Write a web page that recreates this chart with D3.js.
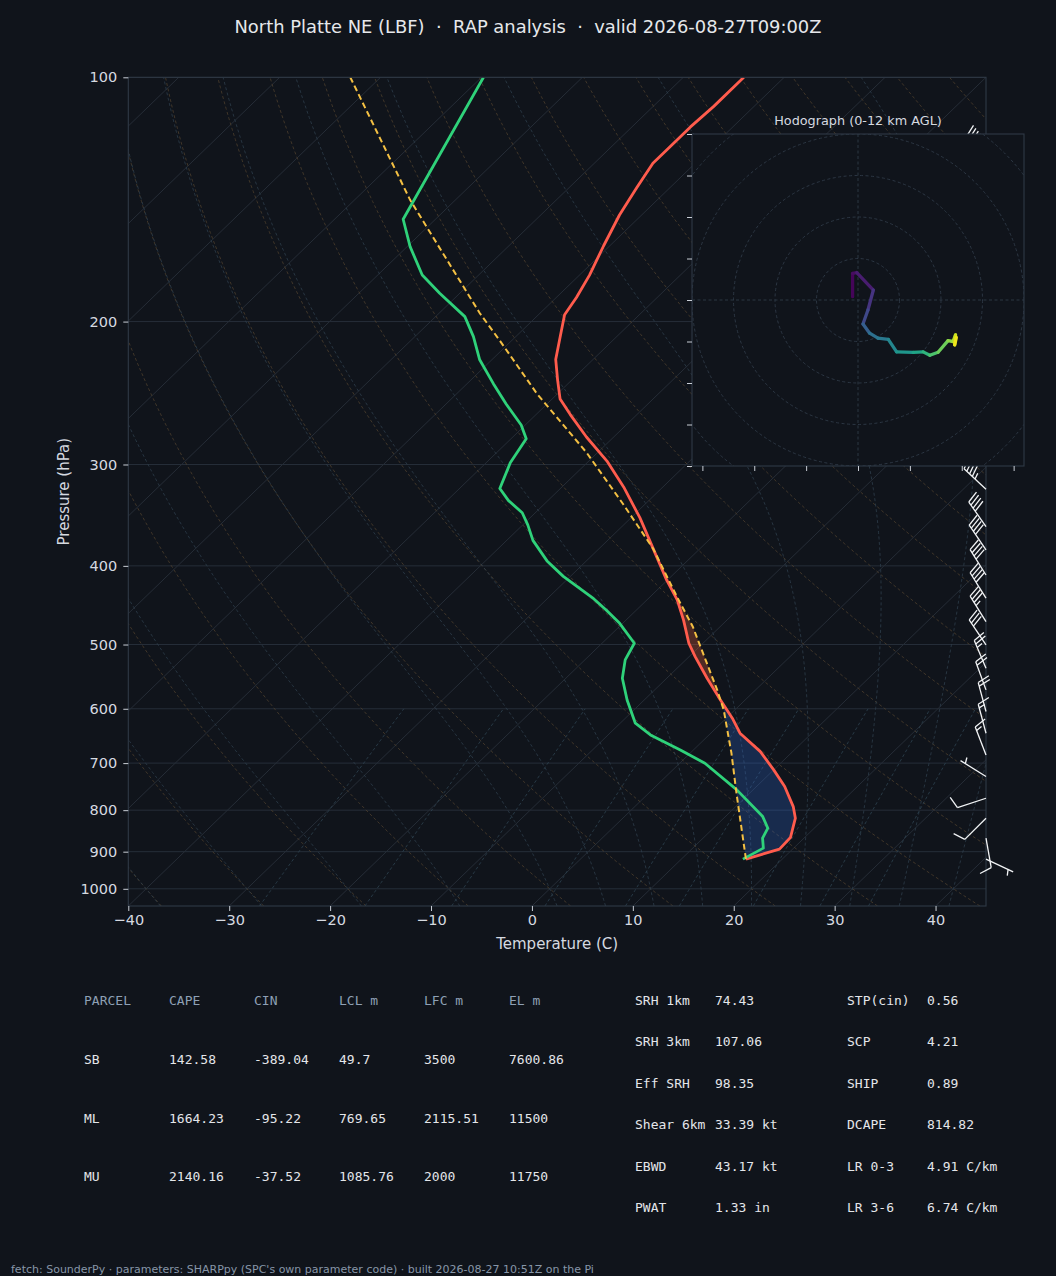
<!DOCTYPE html>
<html>
<head>
<meta charset="utf-8">
<script src="https://cdn.jsdelivr.net/npm/d3@7"></script>
<style>
  body { margin: 0; background: #10141b; }
  svg { display: block; }
  svg text { font-family: "DejaVu Sans", sans-serif; }
  .mono { font-family: "DejaVu Sans Mono", monospace; }
</style>
</head>
<body>
<svg id="chart" width="1056" height="1276"></svg>
<script>
// ---- sounding data (hPa, degC), surface first ----
const tempP = [919.2, 893.5, 864.7, 818.4, 791.9, 748.2, 713.6, 677.5, 643.1, 616.3, 579.7, 550.2, 517.5, 498.2, 466.5, 440.5, 416.3, 381.2, 349.1, 319.7, 297.1, 277.5, 260.4, 249.2, 236.1, 222.7, 208.0, 196.2, 186.8, 175.3, 161.4, 147.8, 136.7, 127.6, 122.7, 115.2, 108.6, 100];
const tempC = [16.4, 18.7, 18.6, 17.1, 15.7, 12.8, 10.0, 6.8, 2.9, 0.6, -3.0, -6.0, -9.4, -11.4, -14.3, -17.0, -20.1, -24.6, -29.1, -33.9, -38.2, -42.7, -46.6, -49.2, -51.4, -53.7, -55.7, -57.4, -58.0, -59.0, -60.6, -62.2, -63.3, -64.2, -64.2, -64.2, -64.0, -64.0];

const dewP = [919.2, 891.0, 866.2, 842.0, 814.7, 755.3, 700.3, 674.3, 646.2, 625.1, 585.2, 550.2, 522.3, 498.2, 470.8, 453.4, 439.1, 412.1, 394.4, 372.1, 356.1, 344.0, 332.4, 321.2, 298.6, 278.8, 268.2, 252.9, 238.5, 222.9, 208.7, 197.2, 184.5, 175.2, 161.7, 149.6, 100];
const dewC = [16.1, 17.0, 15.9, 15.4, 13.7, 8.4, 2.5, -1.3, -5.8, -8.5, -11.7, -14.4, -16.0, -16.8, -20.3, -23.0, -25.4, -30.7, -33.9, -37.4, -39.5, -41.3, -43.9, -46.0, -47.6, -48.5, -50.4, -54.0, -57.4, -61.2, -64.2, -67.1, -72.0, -75.6, -79.7, -83.2, -89.8];

const parcelP = [919.2, 762.4, 680.6, 602.0, 568.8, 475.4, 437.0, 381.2, 335.6, 290.0, 245.6, 211.7, 195.2, 141.6, 100];
const parcelC = [16.4, 8.7, 4.1, -1.1, -3.8, -12.7, -17.3, -24.6, -32.2, -41.1, -52.0, -61.0, -66.0, -84.5, -103.0];

// wind barbs (direction from, knots)
const barbP = [126.1, 321.8, 357.8, 382.3, 410.5, 438.4, 468.5, 500.4, 534.8, 568.7, 604.7, 643.1, 683.9, 727.2, 773.4, 818.4, 866.1, 919.2];
const barbDir = [320, 313, 325, 326, 328, 328, 328, 326, 337, 340, 345, 345, 339, 302, 252, 225, 170, 115];
const barbSpd = [45, 45, 40, 40, 40, 40, 35, 30, 25, 20, 20, 15, 15, 5, 10, 10, 10, 5];

// hodograph 0-12 km
const hodoU = [-1.3, -1.3, -0.3, 3.7, 2.4, 1.2, 2.8, 4.8, 7.3, 9.3, 13.3, 15.7, 17.3, 19.3, 21.7, 22.9, 23.5, 23.3, 23.7];
const hodoV = [0.8, 6.4, 6.6, 2.4, -2.4, -5.8, -8.0, -9.2, -9.5, -12.5, -12.6, -12.5, -13.3, -12.6, -9.8, -10.0, -8.4, -10.8, -9.0];
const hodoKm = [0, 0.3, 0.5, 1.4, 2.2, 3.0, 4.2, 4.6, 5.0, 6.0, 6.6, 7.4, 8.2, 9.0, 9.6, 10.2, 10.8, 11.4, 12.0];
const hodoRings = [10, 20, 30, 40, 50, 60];
const hodoYTicks = [-40, -30, -20, -10, 0, 10, 20, 30, 40];
const hodoXTicks = [-37.5, -25, -12.5, 0, 12.5, 25, 37.5];

// axes ticks and background lines
const pressureTicks = [100, 200, 300, 400, 500, 600, 700, 800, 900, 1000];
const tempTicks = [-40, -30, -20, -10, 0, 10, 20, 30, 40];
const isotherms = [-120, -110, -100, -90, -80, -70, -60, -50, -40, -30, -20, -10, 0, 10, 20, 30, 40];
const dryStarts = [-40, -30, -20, -10, 0, 10, 20, 30, 40, 50, 60, 70, 80, 90, 100, 110, 120, 130, 140, 150, 160, 170, 180, 190, 200, 210, 220, 230, 240];
const moistStarts = [-40, -30, -20, -10, 0, 5, 10, 15, 20, 25, 30, 35, 40, 45, 50, 55, 60, 65, 70, 75, 80, 85, 90, 95];
const mixingRatios = [0.0004, 0.001, 0.002, 0.004, 0.007, 0.01, 0.016, 0.024, 0.032];

// table
const parcelNames = ["SB", "ML", "MU"];
const capeVals = ["142.58", "1664.23", "2140.16"];
const cinVals = ["-389.04", "-95.22", "-37.52"];
const lclVals = ["49.7", "769.65", "1085.76"];
const lfcVals = ["3500", "2115.51", "2000"];
const elVals = ["7600.86", "11500", "11750"];
const tableHeader = ["PARCEL", "CAPE", "CIN", "LCL m", "LFC m", "EL m"];
const kinLabels = ["SRH 1km", "SRH 3km", "Eff SRH", "Shear 6km", "EBWD", "PWAT"];
const kinVals = ["74.43", "107.06", "98.35", "33.39 kt", "43.17 kt", "1.33 in"];
const compLabels = ["STP(cin)", "SCP", "SHIP", "DCAPE", "LR 0-3", "LR 3-6"];
const compVals = ["0.56", "4.21", "0.89", "814.82", "4.91 C/km", "6.74 C/km"];

const BG = "#10141b";
const svg = d3.select("#chart");
svg.append("rect").attr("width", 1056).attr("height", 1276).attr("fill", BG);

svg.append("text")
  .attr("x", 528).attr("y", 33)
  .attr("text-anchor", "middle")
  .attr("font-size", 17.9)
  .attr("fill", "#e6e8eb")
  .style("white-space", "pre")
  .text("North Platte NE (LBF)  \u00b7  RAP analysis  \u00b7  valid 2026-08-27T09:00Z");

// ---- skew-T geometry ----
const X0 = 128.3, X1 = 986, Y0 = 77.3, Y1 = 906;
const x = d3.scaleLinear().domain([-40, 45]).range([X0, X1]);
const y = d3.scaleLog().domain([1050, 100]).range([Y1, Y0]);
const skew = (X1 - X0) / (Y1 - Y0);
function sx(t, p) { return x(t) + (Y1 - y(p)) * skew; }

svg.append("clipPath").attr("id", "skewclip")
  .append("rect").attr("x", X0).attr("y", Y0).attr("width", X1 - X0).attr("height", Y1 - Y0);

const grid = svg.append("g").attr("clip-path", "url(#skewclip)");
const levels = d3.range(0, 81).map(i => 1050 * Math.pow(100 / 1050, i / 80));
const curve = d3.line().x(d => sx(d[1], d[0])).y(d => y(d[0]));

// pressure grid
grid.selectAll(".pgrid").data(pressureTicks).enter().append("line")
  .attr("x1", X0).attr("x2", X1)
  .attr("y1", d => y(d)).attr("y2", d => y(d))
  .attr("stroke", "#262e39").attr("stroke-width", 1);

// isotherms
grid.selectAll(".iso").data(isotherms).enter().append("line")
  .attr("x1", d => sx(d, 1050)).attr("y1", y(1050))
  .attr("x2", d => sx(d, 100)).attr("y2", y(100))
  .attr("stroke", "#262d37").attr("stroke-width", 1);

// dry adiabats
grid.selectAll(".dry").data(dryStarts).enter().append("path")
  .attr("d", t0 => curve(levels.map(p => [p, (t0 + 273.15) * Math.pow(p / 1000, 0.28571) - 273.15])))
  .attr("fill", "none").attr("stroke", "#4d3f2d").attr("stroke-width", 0.8)
  .attr("stroke-dasharray", "3,2.5");

// moist adiabats
function dTdp(p, t) {
  const es = 6.112 * Math.exp(17.67 * (t - 273.15) / (t - 29.65));
  const rs = 0.622 * es / Math.max(p - es, 1);
  const num = 287.04749 * t + 2.50084e6 * rs;
  const den = 1004.6662 + (2.50084e6 * 2.50084e6 * rs * 0.622) / (287.04749 * t * t);
  return num / den / p;
}
function moistCurve(t0) {
  const run = (pEnd, n) => {
    let p = 1000, t = t0 + 273.15;
    const h = (pEnd - 1000) / n;
    const out = [[p, t - 273.15]];
    for (let i = 0; i < n; i++) {
      const k1 = dTdp(p, t);
      const k2 = dTdp(p + h / 2, t + h / 2 * k1);
      const k3 = dTdp(p + h / 2, t + h / 2 * k2);
      const k4 = dTdp(p + h, t + h * k3);
      t += h / 6 * (k1 + 2 * k2 + 2 * k3 + k4);
      p += h;
      if (!isFinite(t)) break;
      out.push([p, t - 273.15]);
    }
    return out;
  };
  const down = run(1050, 5).reverse();
  const up = run(100, 150).slice(1);
  return down.concat(up);
}
grid.selectAll(".moist").data(moistStarts).enter().append("path")
  .attr("d", t0 => curve(moistCurve(t0)))
  .attr("fill", "none").attr("stroke", "#2d3d4b").attr("stroke-width", 0.8)
  .attr("stroke-dasharray", "3,2.5");

// mixing ratio lines up to 600 hPa
const mixLevels = d3.range(0, 21).map(i => 1050 - i * 22.5);
grid.selectAll(".mix").data(mixingRatios).enter().append("path")
  .attr("d", w => curve(mixLevels.map(p => {
    const e = p * w / (0.622 + w);
    const l = Math.log(e / 6.112);
    return [p, 243.5 * l / (17.67 - l)];
  })))
  .attr("fill", "none").attr("stroke", "#2d4250").attr("stroke-width", 0.8)
  .attr("stroke-dasharray", "3,2.5");

// ---- CAPE / CIN shading ----
function interpAt(ps, ts, p) {
  for (let i = 0; i < ps.length - 1; i++) {
    if (p <= ps[i] && p >= ps[i + 1]) {
      const f = (Math.log(p) - Math.log(ps[i])) / (Math.log(ps[i + 1]) - Math.log(ps[i]));
      return ts[i] + f * (ts[i + 1] - ts[i]);
    }
  }
  return NaN;
}
const shadeGrid = d3.range(0, 601).map(i => tempP[0] * Math.pow(100 / tempP[0], i / 600))
  .map(p => ({ p: p, env: interpAt(tempP, tempC, p), par: interpAt(parcelP, parcelC, p) }))
  .filter(d => isFinite(d.env) && isFinite(d.par));
const lfcIdx = shadeGrid.findIndex((d, i) => i > 3 && d.par > d.env);

const plot = svg.append("g").attr("clip-path", "url(#skewclip)");
plot.append("path")
  .datum(shadeGrid.slice(0, lfcIdx + 1))
  .attr("d", d3.area().y(d => y(d.p)).x0(d => sx(d.env, d.p)).x1(d => sx(Math.min(d.env, d.par), d.p)))
  .attr("fill", "#2f6bd6").attr("fill-opacity", 0.27);
plot.append("path")
  .datum(shadeGrid)
  .attr("d", d3.area().y(d => y(d.p)).x0(d => sx(d.env, d.p)).x1(d => sx(Math.max(d.env, d.par), d.p)))
  .attr("fill", "#e0603a").attr("fill-opacity", 0.3);

// ---- profiles ----
const profLine = d3.line().x(d => sx(d.t, d.p)).y(d => y(d.p));
plot.append("path")
  .datum(tempP.map((p, i) => ({ p: p, t: tempC[i] })))
  .attr("d", profLine).attr("fill", "none")
  .attr("stroke", "#ff5c4d").attr("stroke-width", 2.8).attr("stroke-linejoin", "round");
plot.append("path")
  .datum(dewP.map((p, i) => ({ p: p, t: dewC[i] })))
  .attr("d", profLine).attr("fill", "none")
  .attr("stroke", "#2fd27a").attr("stroke-width", 2.8).attr("stroke-linejoin", "round");
plot.append("path")
  .datum(parcelP.map((p, i) => ({ p: p, t: parcelC[i] })))
  .attr("d", profLine).attr("fill", "none")
  .attr("stroke", "#f4c043").attr("stroke-width", 2).attr("stroke-dasharray", "6,3.5");

// frame
svg.append("rect").attr("x", X0).attr("y", Y0).attr("width", X1 - X0).attr("height", Y1 - Y0)
  .attr("fill", "none").attr("stroke", "#2f3946").attr("stroke-width", 1.1);

// axes
const xAxis = svg.append("g").attr("transform", "translate(0," + Y1 + ")")
  .call(d3.axisBottom(x).tickValues(tempTicks).tickSize(5).tickPadding(4));
const yAxis = svg.append("g").attr("transform", "translate(" + X0 + ",0)")
  .call(d3.axisLeft(y).tickValues(pressureTicks).tickFormat(d3.format("d")).tickSize(5).tickPadding(6));
[xAxis, yAxis].forEach(a => {
  a.select(".domain").remove();
  a.selectAll(".tick line").attr("stroke", "#c9ced6");
  a.selectAll(".tick text").attr("fill", "#d6dae0").attr("font-size", 14.5)
    .attr("font-family", "DejaVu Sans, sans-serif");
});

svg.append("text").attr("x", (X0 + X1) / 2).attr("y", 948.5).attr("text-anchor", "middle")
  .attr("font-size", 15).attr("fill", "#d6dae0").text("Temperature (C)");
svg.append("text").attr("transform", "translate(68.5," + ((Y0 + Y1) / 2) + ") rotate(-90)")
  .attr("text-anchor", "middle").attr("font-size", 15).attr("fill", "#d6dae0").text("Pressure (hPa)");

// ---- wind barbs ----
function drawBarb(g, bx, by, dir, spd) {
  const L = 30, fh = 0.4 * L, fw = 0.25 * L, sp = 0.125 * L;
  const r = dir * Math.PI / 180;
  const s = [Math.sin(r), Math.cos(r)];
  const n = [s[1], -s[0]];
  const pt = (a, b) => [bx + a * n[0] + b * s[0], by - (a * n[1] + b * s[1])];
  const rounded = Math.round(spd / 5) * 5;
  const flags = Math.floor(rounded / 50);
  const rem = rounded - flags * 50;
  const full = Math.floor(rem / 10);
  const half = rem - full * 10 >= 5;
  const stroke = "#f2f4f6";
  g.append("line").attr("x1", pt(0, 0)[0]).attr("y1", pt(0, 0)[1])
    .attr("x2", pt(0, L)[0]).attr("y2", pt(0, L)[1])
    .attr("stroke", stroke).attr("stroke-width", 1.3);
  let off = L;
  for (let i = 0; i < flags; i++) {
    g.append("polygon").attr("points", [pt(0, off), pt(fh, off - fw / 2), pt(0, off - fw)].map(q => q.join(",")).join(" "))
      .attr("fill", stroke);
    off -= fw + sp;
  }
  for (let i = 0; i < full; i++) {
    const a = pt(0, off), b = pt(fh, off + fw / 2);
    g.append("line").attr("x1", a[0]).attr("y1", a[1]).attr("x2", b[0]).attr("y2", b[1])
      .attr("stroke", stroke).attr("stroke-width", 1.3);
    off -= sp;
  }
  if (half) {
    if (off === L) off -= 1.5 * sp;
    const a = pt(0, off), b = pt(fh / 2, off + fw / 4);
    g.append("line").attr("x1", a[0]).attr("y1", a[1]).attr("x2", b[0]).attr("y2", b[1])
      .attr("stroke", stroke).attr("stroke-width", 1.3);
  }
}
const barbs = svg.append("g");
barbP.forEach((p, i) => drawBarb(barbs, X1, y(p), barbDir[i], barbSpd[i]));

// ---- hodograph inset ----
const HX0 = 692, HX1 = 1024, HY0 = 134, HY1 = 466;
const hx = d3.scaleLinear().domain([-40, 40]).range([HX0, HX1]);
const hy = d3.scaleLinear().domain([-40, 40]).range([HY1, HY0]);
svg.append("rect").attr("x", HX0).attr("y", HY0).attr("width", HX1 - HX0).attr("height", HY1 - HY0)
  .attr("fill", BG);
svg.append("clipPath").attr("id", "hodoclip")
  .append("rect").attr("x", HX0).attr("y", HY0).attr("width", HX1 - HX0).attr("height", HY1 - HY0);
const hodo = svg.append("g").attr("clip-path", "url(#hodoclip)");
hodo.selectAll(".ring").data(hodoRings).enter().append("circle")
  .attr("cx", hx(0)).attr("cy", hy(0)).attr("r", d => hx(d) - hx(0))
  .attr("fill", "none").attr("stroke", "#2f3a47").attr("stroke-width", 0.9).attr("stroke-dasharray", "3,2.5");
hodo.append("line").attr("x1", HX0).attr("x2", HX1).attr("y1", hy(0)).attr("y2", hy(0))
  .attr("stroke", "#2f3a47").attr("stroke-width", 0.9).attr("stroke-dasharray", "3,2.5");
hodo.append("line").attr("y1", HY0).attr("y2", HY1).attr("x1", hx(0)).attr("x2", hx(0))
  .attr("stroke", "#2f3a47").attr("stroke-width", 0.9).attr("stroke-dasharray", "3,2.5");
const segs = d3.range(hodoU.length - 1);
hodo.selectAll(".seg").data(segs).enter().append("line")
  .attr("x1", i => hx(hodoU[i])).attr("y1", i => hy(hodoV[i]))
  .attr("x2", i => hx(hodoU[i + 1])).attr("y2", i => hy(hodoV[i + 1]))
  .attr("stroke", i => d3.interpolateViridis((hodoKm[i] + hodoKm[i + 1]) / 2 / 12))
  .attr("stroke-width", 3.3).attr("stroke-linecap", "round");
svg.append("rect").attr("x", HX0).attr("y", HY0).attr("width", HX1 - HX0).attr("height", HY1 - HY0)
  .attr("fill", "none").attr("stroke", "#2f3946").attr("stroke-width", 1.1);
const hL = svg.append("g").attr("transform", "translate(" + HX0 + ",0)")
  .call(d3.axisLeft(hy).tickValues(hodoYTicks).tickFormat("").tickSize(5));
const hB = svg.append("g").attr("transform", "translate(0," + HY1 + ")")
  .call(d3.axisBottom(hx).tickValues(hodoXTicks).tickFormat("").tickSize(5));
[hL, hB].forEach(a => {
  a.select(".domain").remove();
  a.selectAll(".tick line").attr("stroke", "#c9ced6");
});
svg.append("text").attr("x", (HX0 + HX1) / 2).attr("y", 124.5).attr("text-anchor", "middle")
  .attr("font-size", 12.8).attr("fill", "#d6dae0").text("Hodograph (0-12 km AGL)");

// ---- parameter tables ----
const colX = [84, 169, 254, 339, 424, 509];
const tbl = svg.append("g").attr("class", "mono").attr("font-size", 13);
tableHeader.forEach((h, i) => {
  tbl.append("text").attr("x", colX[i]).attr("y", 1005).attr("fill", "#8ea0b5")
    .attr("class", "mono").style("white-space", "pre").text(h);
});
const rowY = [1064, 1123, 1181];
parcelNames.forEach((nm, r) => {
  [nm, capeVals[r], cinVals[r], lclVals[r], lfcVals[r], elVals[r]].forEach((v, i) => {
    tbl.append("text").attr("x", colX[i]).attr("y", rowY[r]).attr("fill", "#e4e6ea")
      .attr("class", "mono").text(v);
  });
});
kinLabels.forEach((lb, r) => {
  const yy = 1005 + r * 41.4;
  tbl.append("text").attr("x", 635).attr("y", yy).attr("fill", "#e4e6ea").attr("class", "mono")
    .style("white-space", "pre").text(lb);
  tbl.append("text").attr("x", 715).attr("y", yy).attr("fill", "#e4e6ea").attr("class", "mono")
    .style("white-space", "pre").text(kinVals[r]);
  tbl.append("text").attr("x", 847).attr("y", yy).attr("fill", "#e4e6ea").attr("class", "mono")
    .style("white-space", "pre").text(compLabels[r]);
  tbl.append("text").attr("x", 927).attr("y", yy).attr("fill", "#e4e6ea").attr("class", "mono")
    .style("white-space", "pre").text(compVals[r]);
});

svg.append("text").attr("x", 11).attr("y", 1273).attr("font-size", 11).attr("fill", "#8796a8")
  .text("fetch: SounderPy \u00b7 parameters: SHARPpy (SPC's own parameter code) \u00b7 built 2026-08-27 10:51Z on the Pi");
</script>
</body>
</html>
